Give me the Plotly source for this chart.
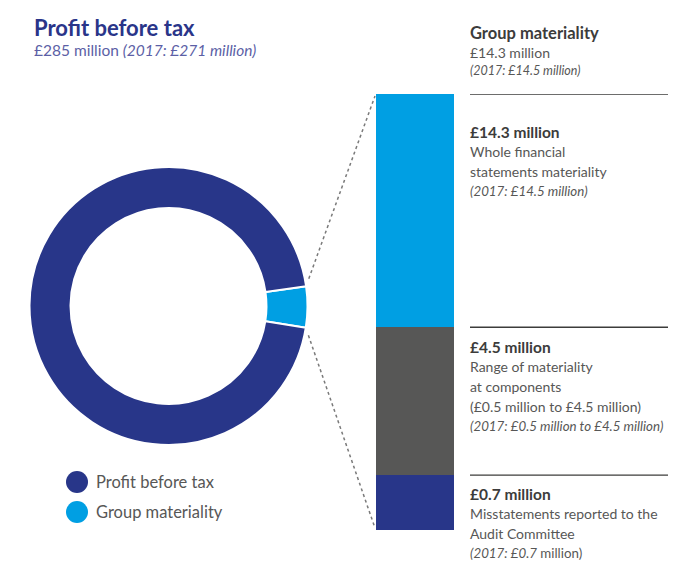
import math
import plotly.graph_objects as go

W, H = 688, 563

# donut data (£ million)
pie_labels = ["Group materiality", "Profit before tax"]
pie_values = [14.3, 285]
pie_colors = ["#009fe3", "#283689"]

# stacked bar: segments bottom->top, share of drawn bar height (%)
bar_names = ["Misstatements reported", "Range at components", "Whole FS materiality"]
bar_share_pct = [12.6, 33.9, 53.5]
bar_colors = ["#283689", "#575756", "#009fe3"]

title = "Profit before tax"
subtitle = "£285 million <i>(2017: £271 million)</i>"

head_lines = ["<b>Group materiality</b>", "£14.3 million", "<i>(2017: £14.5 million)</i>"]
block_lines = [
    ["<b>£14.3 million</b>", "Whole financial", "statements materiality", "<i>(2017: £14.5 million)</i>"],
    ["<b>£4.5 million</b>", "Range of materiality", "at components",
     "(£0.5 million to £4.5 million)", "<i>(2017: £0.5 million to £4.5 million)</i>"],
    ["<b>£0.7 million</b>", "Misstatements reported to the", "Audit Committee",
     "<i>(2017: £0.7</i> million)"],
]

FONT = "Lato"
TXT = "#3c3c3b"
GREY = "#575756"


def px(x):
    return x / W


def py(y):
    return 1 - y / H


fig = go.Figure()

# donut
cx, cy, r = 168.5, 306, 139
fig.add_trace(go.Pie(
    labels=pie_labels, values=pie_values, sort=False, direction="clockwise",
    rotation=90.4 - 180 * pie_values[0] / sum(pie_values),
    hole=0.705, textinfo="none", showlegend=False,
    marker=dict(colors=pie_colors, line=dict(color="white", width=2)),
    domain=dict(x=[px(cx - r), px(cx + r)], y=[py(cy + r), py(cy - r)]),
))

# stacked bar
bx0, bx1, by0, by1 = 376, 454, 94, 530
for n, v, c in zip(bar_names, bar_share_pct, bar_colors):
    fig.add_trace(go.Bar(x=[0], y=[v], name=n, marker_color=c, width=1,
                         marker_line_width=0, showlegend=False))

fig.update_layout(
    width=W, height=H, margin=dict(l=0, r=0, t=0, b=0),
    paper_bgcolor="white", plot_bgcolor="rgba(0,0,0,0)",
    barmode="stack",
    xaxis=dict(domain=[px(bx0), px(bx1)], range=[-0.5, 0.5], visible=False),
    yaxis=dict(domain=[py(by1), py(by0)], range=[0, sum(bar_share_pct)], visible=False),
    font=dict(family=FONT),
)

# rules at the bar segment boundaries
cum = []
acc = 0
for v in bar_share_pct:
    acc += v
    cum.append(acc)
for yv in [cum[2], cum[1], cum[0]]:
    fig.add_shape(type="line", xref="paper", yref="y", x0=px(470), x1=px(668),
                  y0=yv, y1=yv, line=dict(color=TXT, width=1.3))

# dotted connectors from the slice to the bar
a0 = math.radians(90.4 - 180 * pie_values[0] / sum(pie_values))
a1 = math.radians(90.4 + 180 * pie_values[0] / sum(pie_values))
for a, (ex, ey) in [(a0, (bx0 - 1, by0 + 2)), (a1, (bx0 - 1, by1 - 2))]:
    sx, sy = cx + r * math.sin(a), cy - r * math.cos(a)
    dx, dy = ex - sx, ey - sy
    d = math.hypot(dx, dy)
    sx, sy = sx + dx / d * 8, sy + dy / d * 8
    fig.add_shape(type="line", xref="paper", yref="paper",
                  x0=px(sx), y0=py(sy), x1=px(ex), y1=py(ey),
                  line=dict(color="#7a7a7a", width=1.5, dash="dot"))


def line_text(x, base, text, size, color):
    fig.add_annotation(x=px(x), y=py(base - 0.34 * size), xref="paper", yref="paper",
                       text=text, showarrow=False, xanchor="left", yanchor="middle",
                       font=dict(size=size, color=color, family=FONT))


def size_of(t, head=False):
    if t.startswith("<b>"):
        return 16.5 if head else 15.5
    if t.startswith("<i>"):
        return 12.5 if head else 13.3
    return 14


line_text(32, 35, "<b>" + title + "</b>", 22, "#2a3589")
line_text(32, 55, subtitle, 15.5, "#5c5fa6")

for i, t in enumerate(head_lines):
    line_text(468, 39 + i * 18, t, size_of(t, True), TXT if i == 0 else GREY)

starts = [137, 352, 499]
for base, lines in zip(starts, block_lines):
    for i, t in enumerate(lines):
        line_text(468, base + i * 19.6, t, size_of(t), TXT if i == 0 else GREY)

# legend
leg = [(pie_labels[1], pie_colors[1], 482), (pie_labels[0], pie_colors[0], 512)]
for name, col, yc in leg:
    fig.add_shape(type="circle", xref="paper", yref="paper",
                  x0=px(66), x1=px(88), y0=py(yc + 11), y1=py(yc - 11),
                  fillcolor=col, line=dict(width=0))
    line_text(94, yc + 6, name, 16.5, GREY)

fig.write_html("out.html", config={"displayModeBar": False},
               post_script="document.body.style.margin='0px';")
